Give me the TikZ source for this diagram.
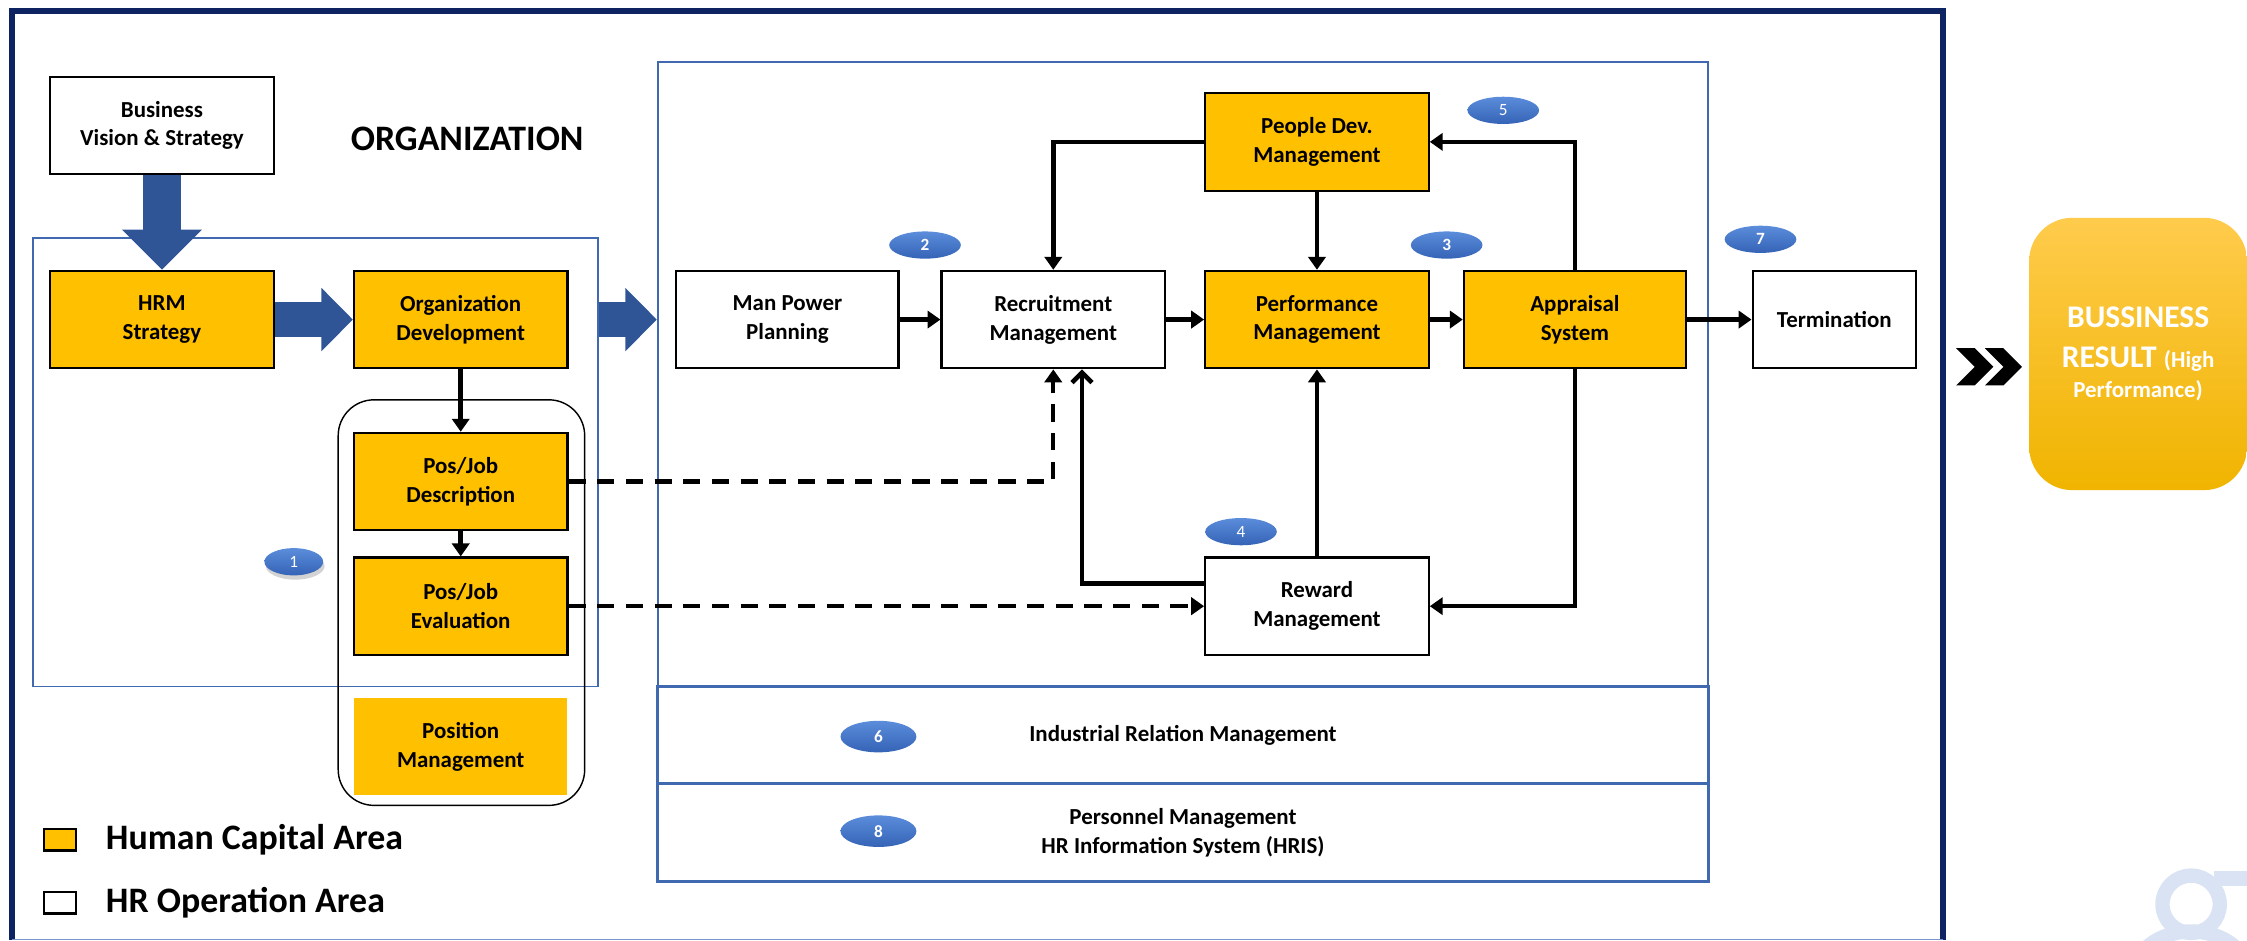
\documentclass[tikz,border=0pt]{standalone}
\usepackage{fontspec}
\setmainfont{Carlito}
\usetikzlibrary{arrows.meta, positioning, shapes.geometric, shadows}

\definecolor{hcorange}{HTML}{FFC000}
\definecolor{framenavy}{HTML}{0E2361}
\definecolor{areablue}{HTML}{4169B0}
\definecolor{arrowblue}{HTML}{2F5597}
\definecolor{badgetop}{HTML}{5B8DDB}
\definecolor{badgebot}{HTML}{3563B6}
\definecolor{resulttop}{HTML}{FFCB4C}
\definecolor{resultbot}{HTML}{F0B400}
\definecolor{wmark}{HTML}{DAE3F3}

\newcommand\boxfont{\bfseries\fontsize{16}{20}\selectfont}
\newcommand\bigfont{\bfseries\fontsize{25}{30}\selectfont}

\begin{document}
\begin{tikzpicture}[
    x=1pt, y=-1pt,
    >=Stealth,
    box/.style={draw=black, line width=1.5pt, minimum width=156pt, minimum height=68pt, inner sep=0pt, align=center, font=\boxfont},
    hcbox/.style={box, fill=hcorange},
    opbox/.style={box, fill=white},
    area/.style={draw=areablue, line width=1.3pt, inner sep=0pt},
    flow/.style={line width=3.2pt, -{Triangle[length=9pt,width=12pt]}},
    barb/.style={line width=3.2pt, -{Straight Barb[length=7pt,width=14pt]}},
    link/.style={line width=3pt, dash pattern=on 12pt off 8pt, -{Triangle[length=9pt,width=12pt]}},
    bigdown/.style={arrowblue, line width=27pt, -{Triangle[length=28pt,width=54pt]}},
    bigright/.style={arrowblue, line width=24pt, -{Triangle[length=22pt,width=43pt]}},
    badge/.style={ellipse, minimum width=50pt, minimum height=19pt, inner sep=0pt, top color=badgetop, bottom color=badgebot, text=white, font=\bfseries\fontsize{12}{14}\selectfont},
    legend/.style={inner sep=0pt, font=\bigfont}
]

\useasboundingbox (0,0) rectangle (1568,656);

% Outer frame
\draw[framenavy, line width=4pt] (8.5,656) -- (8.5,7.5) -- (1356,7.5) -- (1356,656);
\draw[areablue!70, line width=1pt] (8.5,655.5) -- (1356,655.5);

% Areas
\node[area, minimum width=394pt, minimum height=313pt] (orgarea) at (220,322.5) {};
\node[area, minimum width=733pt, minimum height=436pt] (oparea) at (825.5,261) {};
\node[area, line width=2pt, minimum width=733pt, minimum height=68pt, font=\boxfont] (irband) at (825.5,513) {Industrial Relation Management};
\node[area, line width=2pt, minimum width=733pt, minimum height=68pt, align=center, font=\boxfont] (hrisband) at (825.5,581) {Personnel Management\\HR Information System (HRIS)};
\node[draw, line width=1pt, rounded corners=25pt, minimum width=172pt, minimum height=283pt] (posgroup) at (322,420.5) {};

% Organization side
\node[opbox] (biz) at (113,87.5) {Business\\Vision \& Strategy};
\node[font=\bigfont] (orgtitle) at (326,97) {ORGANIZATION};
\node[hcbox] (hrm) at (113,223) {HRM\\Strategy};
\node[hcbox, minimum width=149pt] (orgdev) at (321.5,223) {Organization\\Development};
\node[hcbox, minimum width=149pt] (desc) at (321.5,336) {Pos/Job\\Description};
\node[hcbox, minimum width=149pt] (eval) at (321.5,423) {Pos/Job\\Evaluation};
\node[hcbox, draw=none, minimum width=149pt] (posmgmt) at (321.5,521) {Position\\Management};

% HR operation side
\node[opbox, minimum width=155pt] (manpower) at (549.5,223) {Man Power\\Planning};
\node[opbox] (recruit) at (735,223) {Recruitment\\Management};
\node[hcbox] (perf) at (919,223) {Performance\\Management};
\node[hcbox, minimum width=155pt] (apprais) at (1099,223) {Appraisal\\System};
\node[opbox, minimum width=114pt] (term) at (1280,223) {Termination};
\node[hcbox] (peopledev) at (919,99) {People Dev.\\Management};
\node[opbox] (reward) at (919,423) {Reward\\Management};

% Big blue arrows
\draw[bigdown] (biz.south) -- (hrm.north);
\draw[bigright] (hrm.east) -- (orgdev.west);
\draw[bigright] (orgarea.east |- orgdev.east) -- (oparea.west |- orgdev.east);

% Flow connectors
\draw[flow] (orgdev.south) -- (desc.north);
\draw[flow] (desc.south) -- (eval.north);
\draw[flow] (manpower.east) -- (recruit.west);
\draw[flow] (recruit.east) -- (perf.west);
\draw[flow] (perf.east) -- (apprais.west);
\draw[flow] (apprais.east) -- (term.west);
\draw[flow] (peopledev.south) -- (perf.north);
\draw[flow] (peopledev.west) -| (recruit.north);
\draw[flow] (apprais.north) |- (peopledev.east);
\draw[flow] (apprais.south) |- (reward.east);
\draw[flow] (reward.north) -- (perf.south);
\draw[barb] ([yshift=16pt]reward.west) -| ([xshift=20pt]recruit.south);

% Dashed links from the job boxes
\draw[link] (desc.east) -| (recruit.south);
\draw[link] (eval.east) -- (reward.west);

% Number badges
\node[badge, minimum width=41pt, drop shadow={opacity=0.35, shadow xshift=1pt, shadow yshift=-3pt}] (b1) at (205,392) {\mdseries 1};
\node[badge] (b2) at (645.5,171) {2};
\node[badge] (b3) at (1009.5,171) {3};
\node[badge] (b4) at (866,371) {\mdseries 4};
\node[badge] (b5) at (1049,77) {\mdseries 5};
\node[badge, minimum width=53pt, minimum height=22pt] (b6) at (613,514) {6};
\node[badge] (b7) at (1228.5,167) {7};
\node[badge, minimum width=53pt, minimum height=22pt] (b8) at (613,580) {8};

% Legend
\node[draw, line width=1.5pt, fill=hcorange, minimum width=22pt, minimum height=15pt, inner sep=0pt] (keyhc) at (42,586) {};
\node[legend, right=20pt of keyhc] (keyhctext) {Human Capital Area};
\node[draw, line width=1.5pt, fill=white, minimum width=22pt, minimum height=15pt, inner sep=0pt] (keyop) at (42,630) {};
\node[legend, right=20pt of keyop] (keyoptext) {HR Operation Area};

% Result
\foreach \dx in {0,20}
    \fill[black] ({1365+\dx},243) -- ++(13,0) -- ++(13,13) -- ++(-13,13) -- ++(-13,0) -- ++(13,-13) -- cycle;
\node[rounded corners=30pt, minimum width=152pt, minimum height=190pt, top color=resulttop, bottom color=resultbot, text=white, align=center, font=\bfseries\fontsize{22}{28}\selectfont] (result) at (1492,247)
    {BUSSINESS\\RESULT {\fontsize{16}{20}\selectfont (High}\\[-7pt]{\fontsize{16}{20}\selectfont Performance)}};

% Watermark
\draw[wmark, line width=10pt] (1529,631) circle (20);
\fill[wmark] (1545,608) rectangle (1568,618);
\draw[wmark, line width=10pt] (1529,680) ellipse (40 and 30);

\end{tikzpicture}
\end{document}
